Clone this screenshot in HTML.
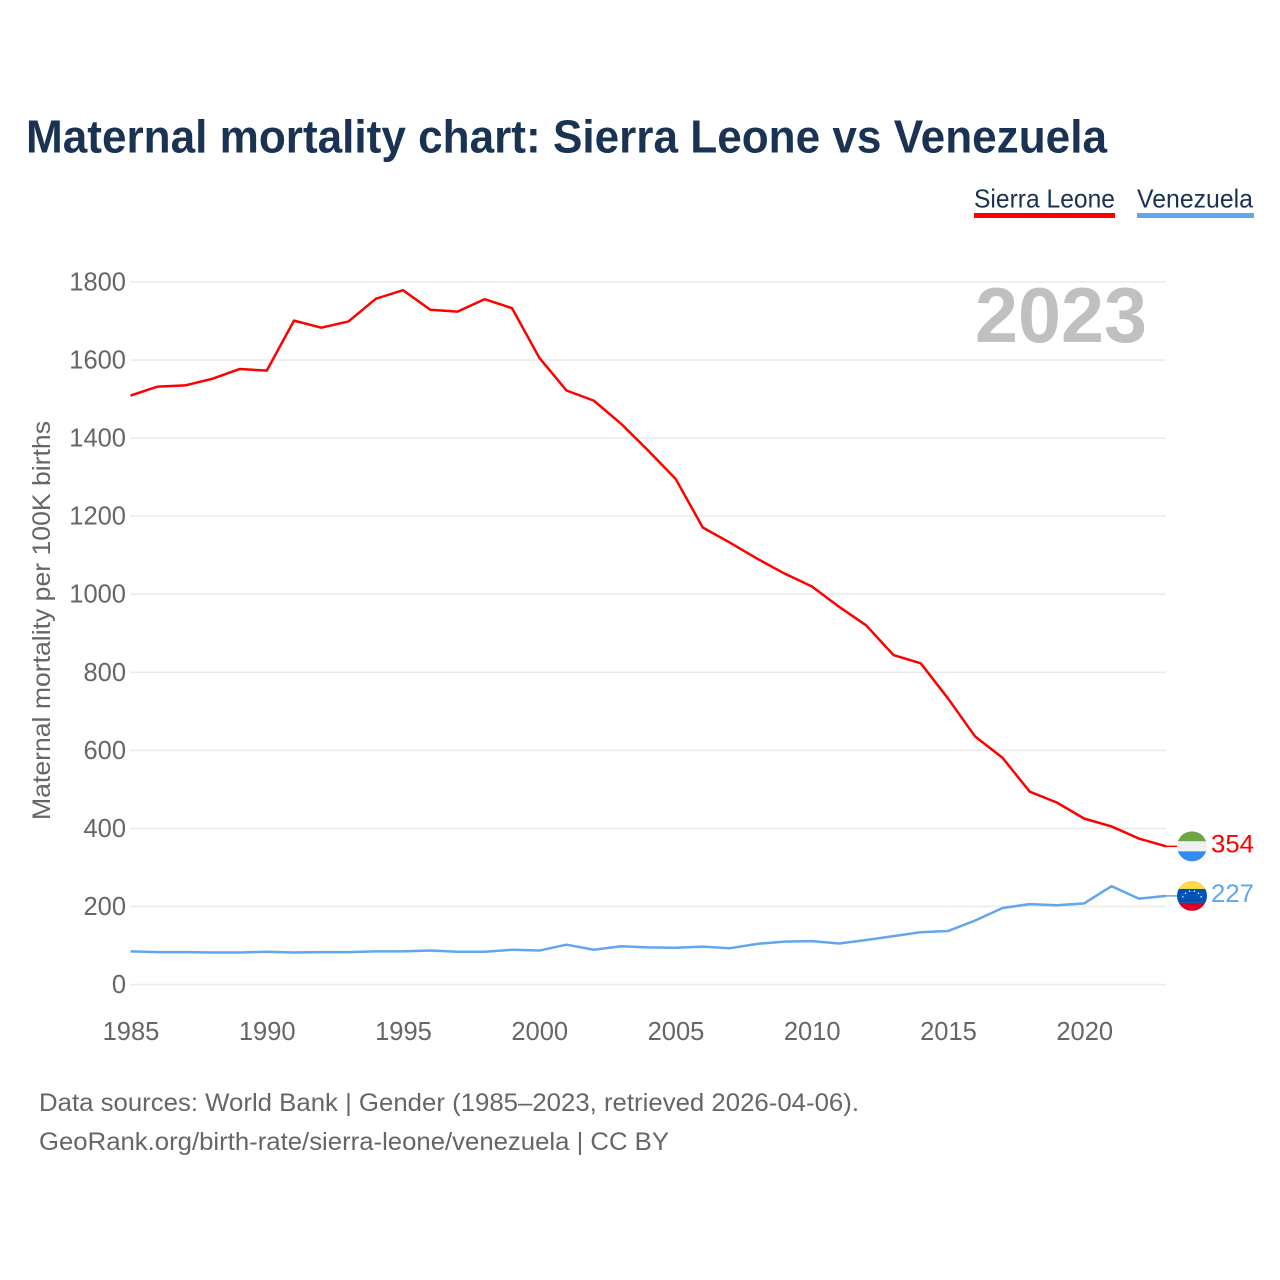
<!DOCTYPE html>
<html lang="en">
<head>
<meta charset="utf-8">
<title>Maternal mortality chart: Sierra Leone vs Venezuela</title>
<style>
html,body{margin:0;padding:0;background:#fff}
svg{display:block}
text{font-family:"Liberation Sans",sans-serif}
</style>
</head>
<body>
<svg id="chart" xmlns="http://www.w3.org/2000/svg" width="1280" height="1280" viewBox="0 0 1280 1280">
  <defs>
    <clipPath id="flag-clip-sl"><circle id="flag-clip-sl-circle" cx="1192" cy="846" r="15"></circle></clipPath>
    <clipPath id="flag-clip-ve"><circle id="flag-clip-ve-circle" cx="1192" cy="895" r="15"></circle></clipPath>
  </defs>
  <rect x="0" y="0" width="1280" height="1280" fill="#ffffff"></rect>
  <text x="26" y="152.5" font-size="46" font-weight="700" fill="#1a3353" textLength="1081" lengthAdjust="spacingAndGlyphs">Maternal mortality chart: Sierra Leone vs Venezuela</text>

  <g>
    <text x="974" y="207.5" font-size="26" fill="#1a3353" textLength="141" lengthAdjust="spacingAndGlyphs">Sierra Leone</text>
    <rect x="974" y="213" width="141" height="5" fill="#ff0000"></rect>
  </g>
  <g>
    <text x="1137" y="207.5" font-size="26" fill="#1a3353" textLength="116" lengthAdjust="spacingAndGlyphs">Venezuela</text>
    <rect x="1137" y="213" width="117" height="5" fill="#62a6ee"></rect>
  </g>

  <g id="grid"></g>
  <g id="y-axis"></g>
  <g id="x-axis"></g>

  <text x="975" y="342" font-size="78" font-weight="700" fill="#c0c0c0" textLength="172" lengthAdjust="spacingAndGlyphs">2023</text>

  <text transform="translate(50,620.5) rotate(-90)" text-anchor="middle" font-size="25" fill="#666666" textLength="399" lengthAdjust="spacingAndGlyphs">Maternal mortality per 100K births</text>

  <g id="series"></g>

  <g id="flag-sl" clip-path="url(#flag-clip-sl)"></g>
  <g id="flag-ve" clip-path="url(#flag-clip-ve)"></g>
  <text id="end-label-sl" x="1211" font-size="25" fill="#ff0000" textLength="43" lengthAdjust="spacingAndGlyphs"></text>
  <text id="end-label-ve" x="1211" font-size="25" fill="#62a6ee" textLength="43" lengthAdjust="spacingAndGlyphs"></text>

  <text x="39" y="1111" font-size="25" fill="#666666" textLength="820" lengthAdjust="spacingAndGlyphs">Data sources: World Bank | Gender (1985–2023, retrieved 2026-04-06).</text>
  <text x="39" y="1150" font-size="25" fill="#666666" textLength="630" lengthAdjust="spacingAndGlyphs">GeoRank.org/birth-rate/sierra-leone/venezuela | CC BY</text>
</svg>

<script>
const years = [1985,1986,1987,1988,1989,1990,1991,1992,1993,1994,1995,1996,1997,1998,1999,2000,2001,2002,2003,2004,2005,2006,2007,2008,2009,2010,2011,2012,2013,2014,2015,2016,2017,2018,2019,2020,2021,2022,2023];
const sierraLeone = [1509,1532,1535,1552,1577,1573,1701,1683,1699,1757,1779,1729,1724,1756,1733,1606,1522,1496,1437,1368,1296,1171,1132,1091,1053,1020,968,920,844,823,733,635,581,494,466,425,405,374,354];
const venezuela = [85,83,83,82,82,84,82,83,83,85,85,87,84,84,89,87,102,89,98,95,94,97,93,104,110,111,105,114,124,134,137,164,196,206,203,208,252,220,227];
const yTicks = [0,200,400,600,800,1000,1200,1400,1600,1800];
const xTicks = [1985,1990,1995,2000,2005,2010,2015,2020];

const NS = 'http://www.w3.org/2000/svg';
const xScale = function (year) { return 130.5 + (year - 1985) * (1166 - 130.5) / 38; };
const yScale = function (value) { return 984.5 - value * (984.5 - 282) / 1800; };

function make(tag, parent, attrs) {
  const el = document.createElementNS(NS, tag);
  Object.keys(attrs).forEach(function (k) { el.setAttribute(k, attrs[k]); });
  parent.appendChild(el);
  return el;
}

const grid = document.getElementById('grid');
const yAxis = document.getElementById('y-axis');
yTicks.forEach(function (t) {
  const line = make('line', grid, { x1: 130, x2: 1166, y1: yScale(t), y2: yScale(t), stroke: '#ebebeb', 'stroke-width': 1.6 });
  
  
  const label = make('text', yAxis, { x: 126, y: yScale(t) + 8.5, 'text-anchor': 'end', 'font-size': 25.5, fill: '#666666' });
  
  
  label.textContent = t;
});

const xAxis = document.getElementById('x-axis');
xTicks.forEach(function (t) {
  const label = make('text', xAxis, { x: xScale(t) + 0.5, y: 1040, 'text-anchor': 'middle', 'font-size': 25.5, fill: '#666666' });
  
  
  label.textContent = t;
});

function pointsFor(values) {
  return values.map(function (v, i) { return xScale(years[i]).toFixed(2) + ',' + yScale(v).toFixed(2); }).join(' ');
}

const seriesGroup = document.getElementById('series');
const slLine = make('polyline', seriesGroup, { points: pointsFor(sierraLeone), fill: 'none', stroke: '#ff0000', 'stroke-width': 2.5, 'stroke-linejoin': 'round' });


const veLine = make('polyline', seriesGroup, { points: pointsFor(venezuela), fill: 'none', stroke: '#62a6ee', 'stroke-width': 2.5, 'stroke-linejoin': 'round' });



const slEnd = yScale(sierraLeone[sierraLeone.length - 1]);
const veEnd = yScale(venezuela[venezuela.length - 1]);

const slLead = make('line', seriesGroup, { x1: 1166, x2: 1178, y1: slEnd, y2: slEnd, stroke: '#ff0000', 'stroke-width': 1.5 });


const veLead = make('line', seriesGroup, { x1: 1166, x2: 1178, y1: veEnd, y2: veEnd, stroke: '#62a6ee', 'stroke-width': 1.5 });



document.getElementById('flag-clip-sl-circle').setAttribute('cy', slEnd);
document.getElementById('flag-clip-ve-circle').setAttribute('cy', veEnd);

const flagSl = document.getElementById('flag-sl');
make('rect', flagSl, { x: 1177, y: slEnd - 15, width: 30, height: 10, fill: '#6da544' });
make('rect', flagSl, { x: 1177, y: slEnd - 5, width: 30, height: 10, fill: '#f0f0f0' });
make('rect', flagSl, { x: 1177, y: slEnd + 5, width: 30, height: 10, fill: '#338af3' });

const flagVe = document.getElementById('flag-ve');
make('rect', flagVe, { x: 1177, y: veEnd - 15, width: 30, height: 8, fill: '#ffda44' });
make('rect', flagVe, { x: 1177, y: veEnd - 7, width: 30, height: 14, fill: '#0052b4' });
make('rect', flagVe, { x: 1177, y: veEnd + 7, width: 30, height: 8, fill: '#d80027' });
[-66, -40, -14, 14, 40, 66].forEach(function (deg) {
  const rad = deg * Math.PI / 180;
  make('circle', flagVe, { cx: 1192 + 10 * Math.sin(rad), cy: veEnd + 5 - 10 * Math.cos(rad), r: 0.8, fill: '#f0f0f0' });
});

const slLabel = document.getElementById('end-label-sl');
slLabel.setAttribute('y', slEnd + 6);
slLabel.textContent = sierraLeone[sierraLeone.length - 1];
const veLabel = document.getElementById('end-label-ve');
veLabel.setAttribute('y', veEnd + 6);
veLabel.textContent = venezuela[venezuela.length - 1];
</script>
</body>
</html>
